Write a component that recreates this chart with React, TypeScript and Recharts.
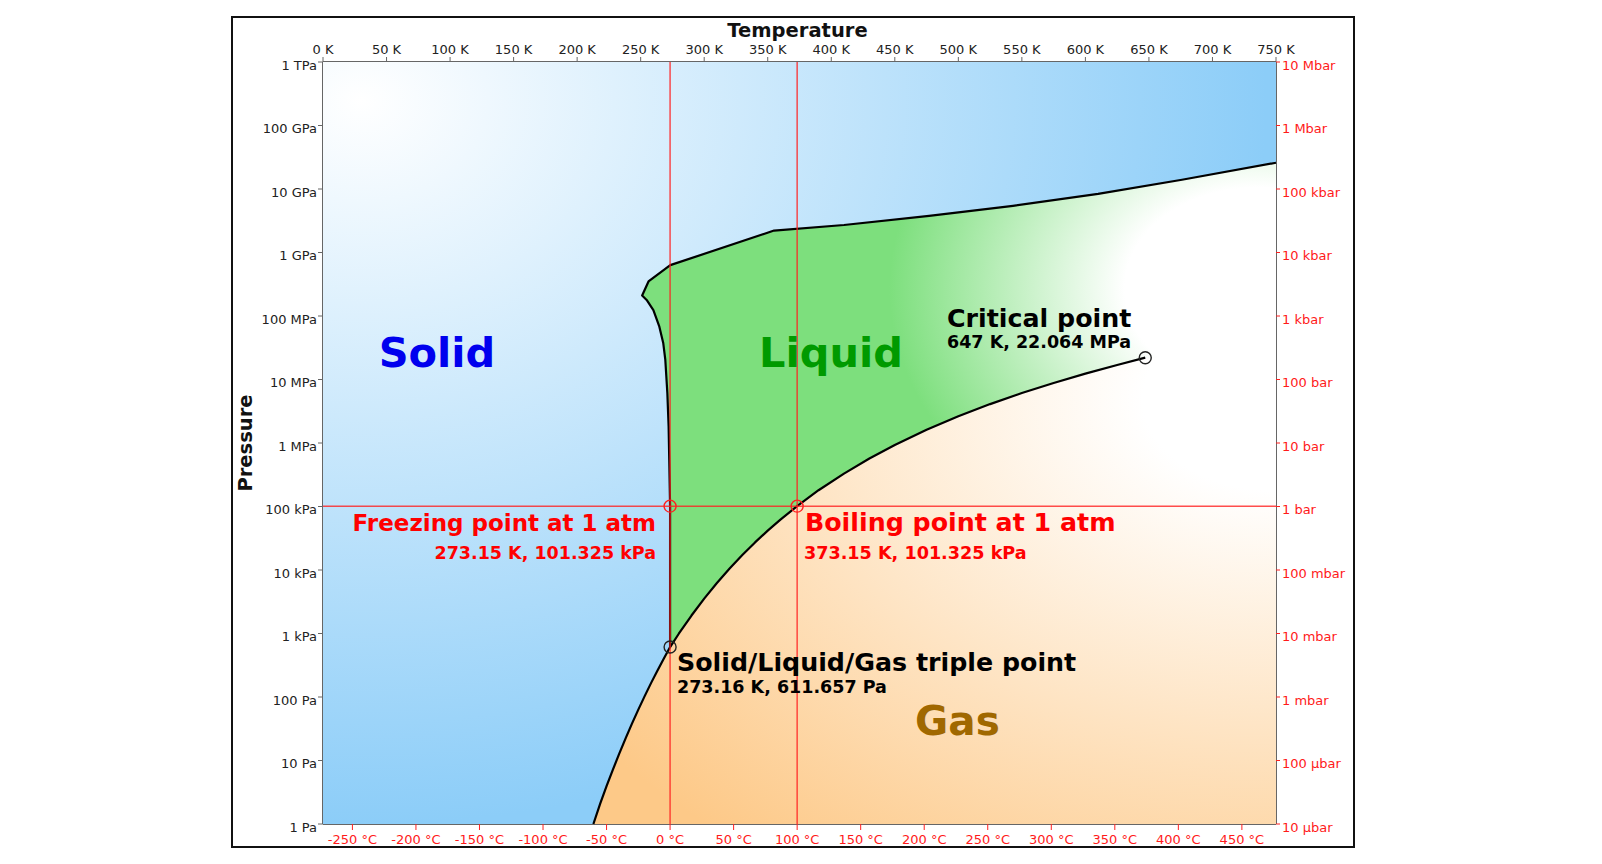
import React from 'react';
import { ScatterChart, Scatter, XAxis, YAxis } from 'recharts';

// [temperature in K, pressure in Pa]
type PT = [number, number];

const kelvinTicks = [0, 50, 100, 150, 200, 250, 300, 350, 400, 450, 500, 550, 600, 650, 700, 750];
const celsiusTicks = [-250, -200, -150, -100, -50, 0, 50, 100, 150, 200, 250, 300, 350, 400, 450];
const decadeTicks = [0, 1, 2, 3, 4, 5, 6, 7, 8, 9, 10, 11, 12];
const pascalLabels = ['1 Pa', '10 Pa', '100 Pa', '1 kPa', '10 kPa', '100 kPa', '1 MPa', '10 MPa', '100 MPa', '1 GPa', '10 GPa', '100 GPa', '1 TPa'];
const barLabels = ['10 µbar', '100 µbar', '1 mbar', '10 mbar', '100 mbar', '1 bar', '10 bar', '100 bar', '1 kbar', '10 kbar', '100 kbar', '1 Mbar', '10 Mbar'];

const triplePoint: PT = [273.16, 611.657];
const criticalPoint: PT = [647.096, 22.064e6];
const freezingPoint: PT = [273.15, 101325];
const boilingPoint: PT = [373.15, 101325];

// solid / gas
const sublimation: PT[] = [
  [212.8, 1], [218.15, 2.09], [223.15, 3.94], [228.15, 7.2], [233.15, 12.8], [238.15, 22.3],
  [243.15, 38.0], [248.15, 63.3], [253.15, 103.3], [258.15, 165.3], [263.15, 259.9],
  [268.15, 401.8], triplePoint,
];

// liquid / gas
const vaporization: PT[] = [
  triplePoint, [280, 991.8], [290, 1920], [300, 3537], [310, 6231], [320, 10546], [330, 17213],
  [340, 27188], [350, 41682], [360, 62194], boilingPoint, [390, 180400], [410, 330000],
  [430, 570000], [450, 932000], [475, 1.62e6], [500, 2.64e6], [525, 4.1e6], [550, 6.12e6],
  [575, 8.82e6], [600, 12.35e6], [625, 16.9e6], criticalPoint,
];

// ice Ih / liquid
const melting: PT[] = [
  triplePoint, freezingPoint, [272.5, 5.4e5], [272.0, 1.8e6], [271.0, 6.07e6], [269.4, 2.03e7],
  [267.8, 3.72e7], [264.7, 6.79e7], [260.0, 1.24e8], [254.7, 1.79e8], [251.165, 2.099e8],
];

// ice III, V, VI, VII / liquid
const highIce: PT[] = [
  [251.165, 2.099e8], [256.165, 3.501e8], [273.31, 6.324e8], [355, 2.216e9], [410, 2.71e9],
  [477, 3.77e9], [543, 5.43e9], [610, 8.37e9], [676, 1.4e10], [750, 2.59e10],
];

const toXY = (pts: PT[]) => pts.map(([t, p]) => ({ t, lp: Math.log10(p) }));

const solidRegion: PT[] = [[0, 1], [750, 1], [750, 1e12], [0, 1e12]];
// the liquid patch runs a little under the gas patch on the right so no seam shows
const liquidRegion: PT[] = [
  ...melting, ...highIce.slice(1), [750, 1.2e7], ...vaporization.slice().reverse(),
];
const gasRegion: PT[] = [...sublimation, ...vaporization.slice(1), [750, criticalPoint[1]], [750, 1]];
const lowerCurve: PT[] = [...sublimation, ...vaporization.slice(1)];
const upperCurve: PT[] = [...melting, ...highIce.slice(1)];

// label anchors: temperature in K, log10 of pressure in Pa
const notes = [
  { text: 'Solid', t: 89.7, lp: 7.425, size: 41.5, color: '#0000ee', anchor: 'middle' },
  { text: 'Liquid', t: 399.8, lp: 7.425, size: 41.5, color: '#009a00', anchor: 'middle' },
  { text: 'Gas', t: 499.3, lp: 1.625, size: 40.5, color: '#a06800', anchor: 'middle' },
  { text: 'Critical point', t: 491.1, lp: 7.964, size: 25.3, color: '#000', anchor: 'start' },
  { text: '647 K, 22.064 MPa', t: 491.1, lp: 7.586, size: 17.5, color: '#000', anchor: 'start' },
  { text: 'Freezing point at 1 atm', t: 262.1, lp: 4.746, size: 23, color: '#ff0000', anchor: 'end' },
  { text: '273.15 K, 101.325 kPa', t: 262.1, lp: 4.272, size: 17.5, color: '#ff0000', anchor: 'end' },
  { text: 'Boiling point at 1 atm', t: 379.3, lp: 4.746, size: 25.3, color: '#ff0000', anchor: 'start' },
  { text: '373.15 K, 101.325 kPa', t: 378.5, lp: 4.272, size: 17.6, color: '#ff0000', anchor: 'start' },
  { text: 'Solid/Liquid/Gas triple point', t: 278.6, lp: 2.545, size: 25.3, color: '#000', anchor: 'start' },
  { text: '273.16 K, 611.657 Pa', t: 278.6, lp: 2.163, size: 17.5, color: '#000', anchor: 'start' },
];

const FONT = 'DejaVu Sans';
const noDot = () => <g />;

const regionLine = (id: string, gradient: React.ReactNode) => (props: any) => {
  const pts = (props.points || []) as { x: number; y: number }[];
  const d = pts.map((p, i) => `${i ? 'L' : 'M'}${p.x},${p.y}`).join(' ') + ' Z';
  return (
    <g>
      <defs>{gradient}</defs>
      <path d={d} fill={`url(#${id})`} stroke="none" />
    </g>
  );
};

const solidGrad = (
  <radialGradient id="solidFill" cx="0.04" cy="0.05" r="1">
    <stop offset="0" stopColor="#ffffff" />
    <stop offset="0.95" stopColor="#8ccdf8" />
  </radialGradient>
);
const liquidGrad = (
  <radialGradient id="liquidFill" cx="0.97" cy="0.26" r="0.58">
    <stop offset="0" stopColor="#ffffff" />
    <stop offset="0.36" stopColor="#ffffff" />
    <stop offset="1" stopColor="#7ddf7d" />
  </radialGradient>
);
const gasGrad = (
  <radialGradient id="gasFill" cx="1" cy="0.09" r="1.3">
    <stop offset="0" stopColor="#ffffff" />
    <stop offset="0.15" stopColor="#ffffff" />
    <stop offset="0.95" stopColor="#fdc988" />
  </radialGradient>
);

const textShape = (n: (typeof notes)[number]) => (props: any) => (
  <text
    x={props.cx}
    y={props.cy}
    textAnchor={n.anchor as any}
    dominantBaseline="central"
    fontFamily={FONT}
    fontWeight="bold"
    fontSize={n.size}
    fill={n.color}
  >
    {n.text}
  </text>
);

const ring = (color: string) => (props: any) => (
  <circle cx={props.cx} cy={props.cy} r={6} fill="none" stroke={color} strokeWidth={1.4} />
);

const TitleLabel = (props: any) => {
  const { x, y, width } = props.viewBox;
  return (
    <text x={x + width / 2 - 2} y={y + 8} textAnchor="middle" dominantBaseline="central"
      fontFamily={FONT} fontWeight="bold" fontSize={19.5} fill="#111">
      Temperature
    </text>
  );
};

const PressureLabel = (props: any) => {
  const { x, y, height } = props.viewBox;
  const cx = x + 12;
  const cy = y + height / 2;
  return (
    <text x={cx} y={cy} transform={`rotate(-90, ${cx}, ${cy})`} textAnchor="middle"
      dominantBaseline="central" fontFamily={FONT} fontWeight="bold" fontSize={19.5} fill="#111">
      Pressure
    </text>
  );
};

const axisLine = { stroke: '#666', strokeWidth: 2 };
const darkTick = { fill: '#222', fontSize: 13 };
const redTick = { fill: '#ff1a1a', fontSize: 13 };

export default function App() {
  const base = { xAxisId: 'k', yAxisId: 'pa', isAnimationActive: false, shape: noDot } as const;
  return (
    <div style={{ position: 'absolute', left: 0, top: 0, width: 1602, height: 864, background: '#fff' }}>
      <div style={{ position: 'absolute', left: 231, top: 16, width: 1124, height: 832, border: '2px solid #111', boxSizing: 'border-box' }} />
      <div style={{ position: 'absolute', left: 0, top: 0 }}>
        <ScatterChart width={1602} height={864} margin={{ top: 22, right: 246, bottom: 10, left: 233 }}
          style={{ fontFamily: FONT }}>
          <Scatter {...base} data={toXY(solidRegion)} line={regionLine('solidFill', solidGrad)} />
          <Scatter {...base} data={toXY(liquidRegion)} line={regionLine('liquidFill', liquidGrad)} />
          <Scatter {...base} data={toXY(gasRegion)} line={regionLine('gasFill', gasGrad)} />
          <Scatter {...base} data={toXY(lowerCurve)} line={{ stroke: '#000', strokeWidth: 2.2, strokeLinejoin: 'round' }} />
          <Scatter {...base} data={toXY(upperCurve)} line={{ stroke: '#000', strokeWidth: 2.2, strokeLinejoin: 'round' }} />
          <Scatter {...base} xAxisId="c" yAxisId="bar" data={toXY([[0, freezingPoint[1]], [750, freezingPoint[1]]])}
            line={{ stroke: '#ff2020', strokeWidth: 1.5, strokeOpacity: 0.8 }} />
          <Scatter {...base} xAxisId="c" yAxisId="bar" data={toXY([[freezingPoint[0], 1], [freezingPoint[0], 1e12]])}
            line={{ stroke: '#ff2020', strokeWidth: 1.5, strokeOpacity: 0.8 }} />
          <Scatter {...base} xAxisId="c" yAxisId="bar" data={toXY([[boilingPoint[0], 1], [boilingPoint[0], 1e12]])}
            line={{ stroke: '#ff2020', strokeWidth: 1.5, strokeOpacity: 0.8 }} />
          <Scatter {...base} data={toXY([freezingPoint, boilingPoint])} shape={ring('#ff2020')} />
          <Scatter {...base} data={toXY([triplePoint, criticalPoint])} shape={ring('#222')} />
          {notes.map((n) => (
            <Scatter key={n.text} {...base} data={[{ t: n.t, lp: n.lp }]} shape={textShape(n)} />
          ))}

          <XAxis xAxisId="k" orientation="top" type="number" dataKey="t" domain={[0, 750]}
            ticks={kelvinTicks} interval={0} tickFormatter={(v: number) => `${v} K`} height={40}
            tickSize={5} tickMargin={3} axisLine={axisLine} tickLine={{ stroke: '#666' }} tick={darkTick}
            label={{ content: TitleLabel }} />
          <XAxis xAxisId="c" orientation="bottom" type="number" dataKey="t" domain={[0, 750]}
            ticks={celsiusTicks.map((c) => c + 273.15)} interval={0}
            tickFormatter={(v: number) => `${Math.round(v - 273.15)} °C`} height={30}
            tickSize={6} tickMargin={5} axisLine={axisLine} tickLine={{ stroke: '#ff2020' }} tick={redTick} />
          <YAxis yAxisId="pa" orientation="left" type="number" dataKey="lp" domain={[0, 12]}
            ticks={decadeTicks} interval={0} tickFormatter={(v: number) => pascalLabels[v]} width={90}
            tickSize={5} tickMargin={1} axisLine={axisLine} tickLine={{ stroke: '#666' }}
            tick={{ ...darkTick, dy: 3 }} label={{ content: PressureLabel }} />
          <YAxis yAxisId="bar" orientation="right" type="number" dataKey="lp" domain={[0, 12]}
            ticks={decadeTicks} interval={0} tickFormatter={(v: number) => barLabels[v]} width={80}
            tickSize={4} tickMargin={2} axisLine={axisLine} tickLine={{ stroke: '#ff2020' }}
            tick={{ ...redTick, dy: 3, textAnchor: 'start' }} />
        </ScatterChart>
      </div>
    </div>
  );
}
